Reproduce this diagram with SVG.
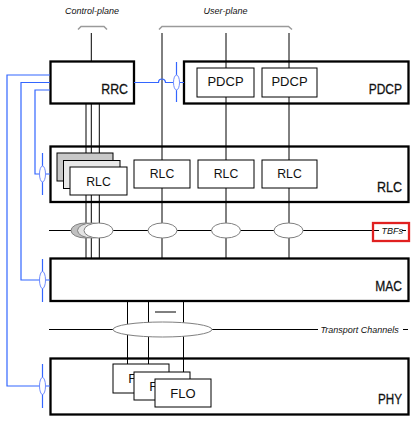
<svg xmlns="http://www.w3.org/2000/svg" width="419" height="422" viewBox="0 0 419 422">
<style>
.outer{fill:#fff;stroke:#000;stroke-width:2.3}
.inner{fill:#fff;stroke:#000;stroke-width:1}
.g1{fill:#c8c8c8;stroke:#000;stroke-width:1}
.g2{fill:#e8e8e8;stroke:#000;stroke-width:1}
text{font-family:"Liberation Sans",Arial,sans-serif;fill:#111}
.lbl{font-size:13px;text-anchor:middle}
.big{font-size:15px;text-anchor:end;stroke:#111;stroke-width:0.3}
.it{font-size:9px;font-style:italic}
.ln{stroke:#000;stroke-width:1;fill:none}
.blue{stroke:#3366ff;stroke-width:1.2;fill:none}
.bell{fill:#fff;stroke:#6f8cff;stroke-width:1}
.ell{fill:#fff;stroke:#808080;stroke-width:1}
.ell1{fill:#c0c0c0;stroke:#808080;stroke-width:1}
.ell2{fill:#e4e4e4;stroke:#808080;stroke-width:1}
.br{fill:none;stroke:#9a9a9a;stroke-width:1.5}
</style>
<rect width="419" height="422" fill="#fff"/>
<g id="layer-rrc"><rect class="outer" x="50.5" y="61.5" width="83.5" height="42"/><text class="big" x="128" y="94" textLength="26.7" lengthAdjust="spacingAndGlyphs">RRC</text></g>
<g id="layer-pdcp"><rect class="outer" x="184" y="61.5" width="224.5" height="42"/><text class="big" x="402" y="94" textLength="33.3" lengthAdjust="spacingAndGlyphs">PDCP</text></g>
<g id="layer-rlc"><rect class="outer" x="50.5" y="146.5" width="358" height="55.5"/><text class="big" x="402" y="192" textLength="25" lengthAdjust="spacingAndGlyphs">RLC</text></g>
<g id="layer-mac"><rect class="outer" x="50.5" y="258.5" width="358" height="42.5"/><text class="big" x="402" y="291" textLength="26.7" lengthAdjust="spacingAndGlyphs">MAC</text></g>
<g id="layer-phy"><rect class="outer" x="50.5" y="358.5" width="358" height="56"/><text class="big" x="402" y="404" textLength="24" lengthAdjust="spacingAndGlyphs">PHY</text></g>
<g id="connectors">
<path class="br" d="M78,29.5 L81,26.5 H104 L107,29.5"/>
<path class="br" d="M159,29.5 L162,26.5 H288.5 L292,29.5"/>
<text class="it" x="92" y="14" text-anchor="middle">Control-plane</text>
<text class="it" x="225.5" y="14" text-anchor="middle">User-plane</text>
<path class="ln" d="M91.3,33 V61"/>
<path class="ln" d="M86,104 V258 M91.3,104 V258 M99.3,104 V258"/>
<path class="ln" d="M162,33 V258 M226,33 V258 M289,33 V258"/>
<path class="ln" d="M127.5,301 V364 M148.5,301 V372 M183.5,301 V379"/>
<path class="ln" d="M155,312 H176"/>
<path class="ln" d="M49,230.5 H406"/>
<path class="ln" d="M49,329.5 H408"/>
<path class="blue" d="M50,75 H7 V386 H50"/>
<path class="blue" d="M50,82.5 H21 V280 H50"/>
<path class="blue" d="M50,90 H35 V174 H50"/>
<path class="blue" d="M42.5,153 V195 M42.5,259 V302 M42.5,364 V408 M176.5,62 V102"/>
<path class="blue" d="M134,82.5 H158.5 A3.5,3.5 0 0 1 165.5,82.5 H184"/>
<ellipse class="bell" cx="42.5" cy="174" rx="3" ry="8"/>
<ellipse class="bell" cx="42.5" cy="280" rx="3" ry="8.5"/>
<ellipse class="bell" cx="42.5" cy="386" rx="3" ry="8.5"/>
<ellipse class="bell" cx="176.5" cy="82.5" rx="3" ry="7.5"/>
<rect x="379" y="224" width="23" height="15" fill="#fff"/>
<text class="it" x="381.5" y="233.5">TBFs</text>
<rect x="373" y="223" width="36" height="18" fill="none" stroke="#e02020" stroke-width="2.3"/>
<rect x="318" y="323" width="85" height="13" fill="#fff"/>
<text class="it" x="320.5" y="332.5">Transport Channels</text>
</g>
<g id="pdcp-1"><rect class="inner" x="197" y="68" width="57" height="29"/><text class="lbl" x="225.5" y="86">PDCP</text></g>
<g id="pdcp-2"><rect class="inner" x="262" y="68" width="55" height="29"/><text class="lbl" x="289.5" y="86">PDCP</text></g>
<g id="rlc-stack">
<rect class="g1" x="57" y="153" width="56" height="28"/>
<rect class="g2" x="63.5" y="160.5" width="56.5" height="28"/>
<rect class="inner" x="70" y="167" width="57" height="28"/>
<text class="lbl" x="98.5" y="185.5" textLength="24.5" lengthAdjust="spacingAndGlyphs">RLC</text>
</g>
<g id="rlc-2"><rect class="inner" x="134" y="160" width="56" height="28"/><text class="lbl" x="162" y="178" textLength="24.5" lengthAdjust="spacingAndGlyphs">RLC</text></g>
<g id="rlc-3"><rect class="inner" x="198" y="160" width="56" height="28"/><text class="lbl" x="226" y="178" textLength="24.5" lengthAdjust="spacingAndGlyphs">RLC</text></g>
<g id="rlc-4"><rect class="inner" x="262" y="160" width="55" height="28"/><text class="lbl" x="289.5" y="178" textLength="24.5" lengthAdjust="spacingAndGlyphs">RLC</text></g>
<g id="tbf-stack">
<ellipse class="ell1" cx="85.5" cy="230.5" rx="14.5" ry="7.5"/>
<ellipse class="ell2" cx="92" cy="230.5" rx="14.5" ry="7.5"/>
<ellipse class="ell" cx="98.5" cy="230.5" rx="14.5" ry="7.5"/>
</g>
<g id="tbf-2"><ellipse class="ell" cx="162.5" cy="230.5" rx="14.5" ry="7.5"/></g>
<g id="tbf-3"><ellipse class="ell" cx="226" cy="230.5" rx="14.5" ry="7.5"/></g>
<g id="tbf-4"><ellipse class="ell" cx="288.5" cy="230.5" rx="14.5" ry="7.5"/></g>
<g id="transport"><ellipse class="ell" cx="162.5" cy="329.5" rx="49.5" ry="7.5"/></g>
<g id="flo-1"><rect class="inner" x="113" y="364" width="56" height="29"/><text class="lbl" x="141" y="382.5">FLO</text></g>
<g id="flo-2"><rect class="inner" x="134" y="372" width="56" height="28"/><text class="lbl" x="162" y="390.5">FLO</text></g>
<g id="flo-3"><rect class="inner" x="155" y="379" width="56" height="28"/><text class="lbl" x="183" y="397.5">FLO</text></g>
</svg>
